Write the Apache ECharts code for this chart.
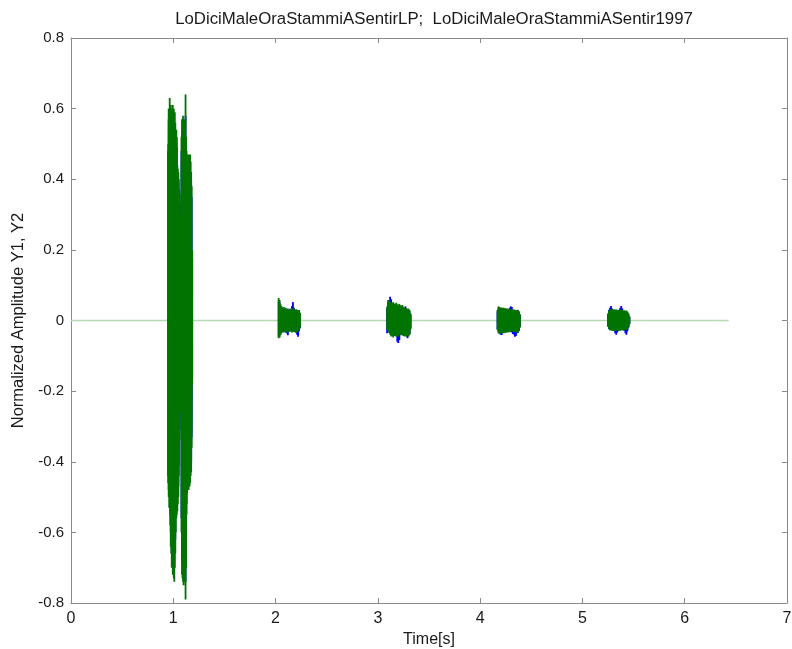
<!DOCTYPE html>
<html>
<head>
<meta charset="utf-8">
<script src="https://cdn.jsdelivr.net/npm/echarts@6/dist/echarts.min.js"></script>
<style>html,body{margin:0;padding:0;background:#fff}#c{width:792px;height:649px}</style>
</head>
<body>
<div id="c"></div>
<script>
// ---- data ----
var titleText = 'LoDiciMaleOraStammiASentirLP;  LoDiciMaleOraStammiASentir1997';
var xTickLabels = ['0','1','2','3','4','5','6','7'];
var yTickLabels = ['-0.8','-0.6','-0.4','-0.2','0','0.2','0.4','0.6','0.8'];
var baselineT = [0, 6.43];
var baselineV = [0, 0];

// burst 1
var t1 = [0.950,0.955,0.960,0.965,0.970,0.975,0.980,0.985,0.990,0.995,1.000,1.005,1.010,1.015,1.020,1.025,1.030,1.035,1.040,1.045,1.050,1.055,1.060,1.065,1.070,1.075,1.080,1.085,1.090,1.095,1.100,1.105,1.110,1.115,1.120,1.125,1.130,1.135,1.140,1.145,1.150,1.155,1.160,1.165,1.170,1.175,1.180,1.185];
var g1Up = [0.50,0.60,0.58,0.63,0.59,0.61,0.58,0.60,0.59,0.61,0.58,0.60,0.57,0.59,0.56,0.53,0.54,0.52,0.44,0.43,0.42,0.40,0.36,0.28,0.22,0.30,0.52,0.57,0.55,0.58,0.56,0.57,0.54,0.56,0.64,0.52,0.48,0.46,0.47,0.45,0.47,0.46,0.44,0.47,0.45,0.42,0.38,0.20];
var g1Lo = [-0.46,-0.50,-0.53,-0.51,-0.58,-0.64,-0.66,-0.70,-0.68,-0.72,-0.70,-0.73,-0.74,-0.70,-0.66,-0.60,-0.56,-0.55,-0.54,-0.52,-0.50,-0.44,-0.34,-0.22,-0.18,-0.26,-0.60,-0.72,-0.73,-0.74,-0.75,-0.73,-0.74,-0.72,-0.79,-0.70,-0.55,-0.49,-0.48,-0.46,-0.48,-0.45,-0.47,-0.46,-0.44,-0.43,-0.36,-0.18];
var b1Up = [0.48,0.57,0.55,0.57,0.55,0.57,0.55,0.56,0.55,0.57,0.54,0.56,0.53,0.55,0.52,0.50,0.51,0.49,0.41,0.40,0.39,0.37,0.33,0.25,0.20,0.27,0.48,0.53,0.51,0.54,0.52,0.53,0.50,0.52,0.58,0.48,0.45,0.43,0.44,0.42,0.44,0.43,0.41,0.44,0.42,0.39,0.35,0.18];
var b1Lo = [-0.44,-0.48,-0.50,-0.48,-0.55,-0.60,-0.62,-0.66,-0.64,-0.68,-0.66,-0.69,-0.70,-0.66,-0.62,-0.56,-0.52,-0.51,-0.50,-0.49,-0.47,-0.41,-0.31,-0.20,-0.16,-0.24,-0.56,-0.68,-0.69,-0.70,-0.71,-0.69,-0.70,-0.68,-0.74,-0.66,-0.52,-0.46,-0.45,-0.43,-0.45,-0.42,-0.44,-0.43,-0.41,-0.40,-0.33,-0.16];

// burst 2
var t2 = [2.03,2.04,2.05,2.06,2.07,2.08,2.09,2.10,2.11,2.12,2.13,2.14,2.15,2.16,2.17,2.18,2.19,2.20,2.21,2.22,2.23,2.24];
var g2Up = [0.064,0.058,0.045,0.040,0.035,0.038,0.032,0.036,0.030,0.034,0.028,0.033,0.030,0.035,0.030,0.034,0.028,0.032,0.030,0.027,0.030,0.022];
var g2Lo = [-0.050,-0.048,-0.040,-0.035,-0.030,-0.034,-0.028,-0.033,-0.030,-0.035,-0.029,-0.032,-0.028,-0.034,-0.030,-0.033,-0.029,-0.035,-0.031,-0.030,-0.028,-0.020];
var b2Up = [0.055,0.050,0.040,0.036,0.032,0.034,0.030,0.033,0.028,0.031,0.027,0.030,0.032,0.040,0.052,0.036,0.030,0.028,0.030,0.026,0.028,0.020];
var b2Lo = [-0.045,-0.042,-0.036,-0.032,-0.030,-0.031,-0.030,-0.034,-0.036,-0.042,-0.030,-0.030,-0.029,-0.030,-0.028,-0.031,-0.030,-0.034,-0.040,-0.046,-0.030,-0.022];

// burst 3
var t3 = [3.09,3.10,3.11,3.12,3.13,3.14,3.15,3.16,3.17,3.18,3.19,3.20,3.21,3.22,3.23,3.24,3.25,3.26,3.27,3.28,3.29,3.30,3.31,3.32];
var g3Up = [0.040,0.058,0.055,0.052,0.050,0.048,0.052,0.048,0.045,0.050,0.046,0.042,0.047,0.043,0.040,0.044,0.038,0.036,0.032,0.035,0.032,0.034,0.030,0.020];
var g3Lo = [-0.025,-0.032,-0.035,-0.040,-0.045,-0.042,-0.048,-0.044,-0.040,-0.046,-0.042,-0.045,-0.040,-0.038,-0.042,-0.040,-0.044,-0.045,-0.042,-0.046,-0.043,-0.045,-0.040,-0.025];
var b3Up = [0.035,0.050,0.052,0.067,0.060,0.044,0.046,0.043,0.040,0.044,0.042,0.038,0.042,0.040,0.036,0.040,0.035,0.032,0.040,0.030,0.029,0.030,0.026,0.018];
var b3Lo = [-0.036,-0.030,-0.033,-0.036,-0.040,-0.040,-0.044,-0.042,-0.038,-0.044,-0.060,-0.064,-0.055,-0.036,-0.040,-0.038,-0.042,-0.042,-0.040,-0.044,-0.050,-0.042,-0.038,-0.022];

// burst 4
var t4 = [4.17,4.18,4.19,4.20,4.21,4.22,4.23,4.24,4.25,4.26,4.27,4.28,4.29,4.30,4.31,4.32,4.33,4.34,4.35,4.36,4.37,4.38,4.39];
var g4Up = [0.030,0.040,0.038,0.035,0.037,0.034,0.036,0.033,0.035,0.032,0.034,0.031,0.033,0.030,0.032,0.030,0.031,0.029,0.030,0.028,0.030,0.026,0.018];
var g4Lo = [-0.028,-0.036,-0.038,-0.035,-0.037,-0.034,-0.036,-0.033,-0.035,-0.032,-0.034,-0.031,-0.033,-0.030,-0.032,-0.031,-0.033,-0.032,-0.034,-0.033,-0.035,-0.030,-0.020];
var b4Up = [0.026,0.035,0.034,0.032,0.034,0.031,0.033,0.030,0.032,0.030,0.031,0.030,0.036,0.040,0.038,0.030,0.029,0.028,0.028,0.027,0.028,0.024,0.016];
var b4Lo = [-0.025,-0.033,-0.035,-0.040,-0.041,-0.032,-0.034,-0.032,-0.033,-0.031,-0.032,-0.030,-0.032,-0.030,-0.034,-0.038,-0.040,-0.046,-0.044,-0.036,-0.032,-0.028,-0.018];

// burst 5
var t5 = [5.25,5.26,5.27,5.28,5.29,5.30,5.31,5.32,5.33,5.34,5.35,5.36,5.37,5.38,5.39,5.40,5.41,5.42,5.43,5.44,5.45,5.46];
var g5Up = [0.020,0.028,0.032,0.030,0.033,0.030,0.032,0.029,0.031,0.028,0.030,0.028,0.031,0.029,0.030,0.027,0.029,0.026,0.028,0.025,0.020,0.012];
var g5Lo = [-0.018,-0.025,-0.028,-0.026,-0.029,-0.027,-0.030,-0.028,-0.029,-0.027,-0.030,-0.028,-0.029,-0.027,-0.028,-0.026,-0.028,-0.025,-0.027,-0.024,-0.018,-0.010];
var b5Up = [0.018,0.030,0.036,0.041,0.034,0.028,0.030,0.028,0.030,0.026,0.028,0.030,0.036,0.041,0.034,0.026,0.027,0.024,0.026,0.023,0.018,0.010];
var b5Lo = [-0.016,-0.024,-0.026,-0.025,-0.028,-0.026,-0.030,-0.036,-0.040,-0.034,-0.028,-0.027,-0.028,-0.026,-0.027,-0.025,-0.030,-0.036,-0.040,-0.030,-0.020,-0.010];

// ---- build series data (vertical strokes up/down at each sample) ----
function build(bursts) {
  var out = [];
  bursts.forEach(function (b, k) {
    if (k > 0) out.push([b[0][0], null]);
    for (var i = 0; i < b[0].length; i++) {
      out.push([b[0][i], b[1][i]]);
      out.push([b[0][i], b[2][i]]);
    }
  });
  return out;
}
var y1Data = build([[t1,b1Up,b1Lo],[t2,b2Up,b2Lo],[t3,b3Up,b3Lo],[t4,b4Up,b4Lo],[t5,b5Up,b5Lo]]);
var y2Data = build([[t1,g1Up,g1Lo],[t2,g2Up,g2Lo],[t3,g3Up,g3Lo],[t4,g4Up,g4Lo],[t5,g5Up,g5Lo]]);
var baseData = baselineT.map(function (t, i) { return [t, baselineV[i]]; });

var axisColor = '#8a8a8a';
var font = 'Liberation Sans, Arial, sans-serif';

var chart = echarts.init(document.getElementById('c'), null, {renderer: 'canvas'});
chart.setOption({
  animation: false,
  backgroundColor: '#ffffff',
  title: {
    text: titleText, left: 429, top: 6, textAlign: 'center',
    textStyle: {fontFamily: font, fontSize: 16.8, fontWeight: 'normal', color: '#1a1a1a'}
  },
  grid: {left: 71, right: 5, top: 38, bottom: 46, show: false, containLabel: false, outerBoundsMode: 'none'},
  xAxis: [{
    type: 'value', min: 0, max: 7, interval: 1, position: 'bottom',
    name: 'Time[s]', nameLocation: 'middle', nameGap: 29,
    nameTextStyle: {fontFamily: font, fontSize: 16, color: '#1a1a1a'},
    axisLine: {show: true, onZero: false, lineStyle: {color: axisColor, width: 1}},
    axisTick: {show: true, inside: true, length: 5, lineStyle: {color: axisColor}},
    axisLabel: {margin: 8, fontFamily: font, fontSize: 16, color: '#1a1a1a',
      formatter: function (v) { return xTickLabels[Math.round(v)]; }},
    splitLine: {show: false}
  }, {
    type: 'value', min: 0, max: 7, interval: 1, position: 'top',
    axisLine: {show: true, onZero: false, lineStyle: {color: axisColor, width: 1}},
    axisTick: {show: true, inside: true, length: 5, lineStyle: {color: axisColor}},
    axisLabel: {show: false}, splitLine: {show: false}
  }],
  yAxis: [{
    type: 'value', min: -0.8, max: 0.8, interval: 0.2, position: 'left',
    name: 'Normalized Amplitude Y1, Y2', nameLocation: 'middle', nameGap: 42,
    nameTextStyle: {fontFamily: font, fontSize: 16.5, color: '#1a1a1a'},
    axisLine: {show: true, onZero: false, lineStyle: {color: axisColor, width: 1}},
    axisTick: {show: true, inside: true, length: 5, lineStyle: {color: axisColor}},
    axisLabel: {margin: 7, fontFamily: font, fontSize: 15, color: '#1a1a1a',
      formatter: function (v) { return yTickLabels[Math.round((v + 0.8) / 0.2)]; }},
    splitLine: {show: false}
  }, {
    type: 'value', min: -0.8, max: 0.8, interval: 0.2, position: 'right',
    axisLine: {show: true, onZero: false, lineStyle: {color: axisColor, width: 1}},
    axisTick: {show: true, inside: true, length: 5, lineStyle: {color: axisColor}},
    axisLabel: {show: false}, splitLine: {show: false}
  }],
  series: [{
    name: 'base', type: 'line', data: baseData, showSymbol: false, silent: true,
    lineStyle: {color: '#b3dbb3', width: 1.5}, z: 1
  }, {
    name: 'Y1', type: 'line', data: y1Data, showSymbol: false, connectNulls: false,
    sampling: null, lineStyle: {color: '#0000ff', width: 1.8}, z: 2
  }, {
    name: 'Y2', type: 'line', data: y2Data, showSymbol: false, connectNulls: false,
    sampling: null, lineStyle: {color: '#007300', width: 1.8}, z: 3
  }]
});
</script>
</body>
</html>
